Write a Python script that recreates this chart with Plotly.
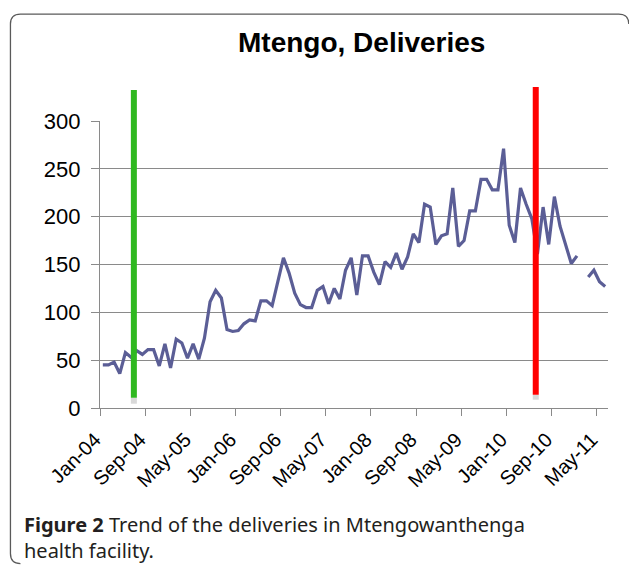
import numpy as np
import plotly.graph_objects as go

# ---- data (monthly deliveries, Jan-04 .. Jun-11) ----
DELIVERIES = [
    45, 45, 48, 36, 58, 53, 60, 56, 61, 61, 44, 67,      # 2004
    42, 72, 68, 52, 67, 51, 73, 111, 123, 115, 82, 80,   # 2005
    81, 88, 92, 91, 112, 112, 107, 132, 157, 141, 120, 108,  # 2006
    105, 105, 123, 127, 109, 125, 114, 144, 157, 118, 159, 159,  # 2007
    142, 129, 153, 147, 162, 145, 158, 182, 173, 213, 210, 171,  # 2008
    180, 182, 230, 169, 175, 206, 206, 239, 239, 228, 228, 271,  # 2009
    191, 173, 230, 213, 198, 161, 210, 171, 221, 190, 170, 151,  # 2010
    159, None, 137, 144, 132, 127,                           # 2011
]
TICK_LABELS = ["Jan-04", "Sep-04", "May-05", "Jan-06", "Sep-06", "May-07",
               "Jan-08", "Sep-08", "May-09", "Jan-10", "Sep-10", "May-11"]
TICK_STEP = 8
Y_TICKS = [0, 50, 100, 150, 200, 250, 300]

# intervention markers (month index on the axis)
GREEN_MONTH = 6.0
RED_MONTH = 77.2

n = len(DELIVERIES)
x = np.arange(n) + 0.5  # category centres

# ---- pixel helpers for decoration placement ----
L, R, T, B = 100, 607.7, 121.0, 408.3
W, H = 629, 569
def px(v):
    return (v - L) / (R - L)
def py(v):
    return (B - v) / (B - T)

fig = go.Figure()
fig.add_trace(go.Scatter(
    x=x, y=DELIVERIES, mode="lines",
    line=dict(color="#5b5e96", width=3.2),
    connectgaps=False, showlegend=False, hoverinfo="skip",
))

shapes = []
# vertical markers
shapes.append(dict(type="line", xref="x", yref="paper", x0=GREEN_MONTH, x1=GREEN_MONTH,
                   y0=py(404), y1=py(398), line=dict(color="#d9d9d9", width=6)))
shapes.append(dict(type="line", xref="x", yref="paper", x0=GREEN_MONTH, x1=GREEN_MONTH,
                   y0=py(398), y1=py(90), line=dict(color="#2fb820", width=6)))
shapes.append(dict(type="line", xref="x", yref="paper", x0=RED_MONTH, x1=RED_MONTH,
                   y0=py(400), y1=py(395), line=dict(color="#d9d9d9", width=6)))
shapes.append(dict(type="line", xref="x", yref="paper", x0=RED_MONTH, x1=RED_MONTH,
                   y0=py(395), y1=py(87), line=dict(color="#ff0000", width=6)))

# rounded frame
fx0, fx1, fy0, fy1, r = 10.5, 628.5, 14, 564, 10
path = (f"M {px(fx0)},{py(fy1 - r)} L {px(fx0)},{py(fy0 + r)} "
        f"Q {px(fx0)},{py(fy0)} {px(fx0 + r)},{py(fy0)} "
        f"L {px(fx1 - r)},{py(fy0)} Q {px(fx1)},{py(fy0)} {px(fx1)},{py(fy0 + r)} "
        f"M {px(fx0)},{py(fy1 - r)} Q {px(fx0)},{py(fy1)} {px(fx0 + r)},{py(fy1)}")
shapes.append(dict(type="path", xref="paper", yref="paper", path=path,
                   line=dict(color="#5a5a5a", width=1.3)))

CAP_FONT = dict(size=20, family="Noto Sans, sans-serif", color="#231f20")

fig.update_layout(
    width=W, height=H,
    margin=dict(l=L, r=W - R, t=T, b=H - B, pad=0),
    paper_bgcolor="white", plot_bgcolor="white",
    font=dict(family="Liberation Sans, Arial, sans-serif", color="black"),
    shapes=shapes,
    xaxis=dict(
        range=[0, n], tickmode="array",
        tickvals=list(range(0, n, TICK_STEP)), ticktext=TICK_LABELS,
        tickangle=-45, ticks="outside", ticklen=7, tickwidth=1.3, tickcolor="#8a8a8a",
        showline=True, linecolor="#8a8a8a", linewidth=1.3,
        showgrid=False, zeroline=False,
        tickfont=dict(size=20, family="Liberation Sans, Arial, sans-serif", color="black"),
        ticklabelshift=-5, ticklabelstandoff=4,
    ),
    yaxis=dict(
        range=[0, 300], tickmode="array", tickvals=Y_TICKS,
        ticks="outside", ticklen=8, tickwidth=1.3, tickcolor="#8a8a8a",
        showline=True, linecolor="#8a8a8a", linewidth=1.3,
        showgrid=True, gridcolor="#8a8a8a", gridwidth=1.3, zeroline=False,
        tickfont=dict(size=22, family="Liberation Sans, Arial, sans-serif", color="black"),
        ticklabelstandoff=6,
    ),
    annotations=[
        dict(text="<b>Mtengo, Deliveries</b>", xref="paper", yref="paper",
             x=px(361), y=py(42.5), xanchor="center", yanchor="middle", showarrow=False,
             font=dict(size=28, family="Liberation Sans, Arial, sans-serif", color="black")),
        dict(text="<b>Figure 2</b> Trend of the deliveries in Mtengowanthenga<br>health facility.",
             xref="paper", yref="paper", x=px(22), y=py(538), xanchor="left", yanchor="middle",
             align="left", showarrow=False, font=CAP_FONT),
    ],
)

fig.write_html("out.html", config={"displayModeBar": False},
               post_script="document.body.style.margin='0px';")
